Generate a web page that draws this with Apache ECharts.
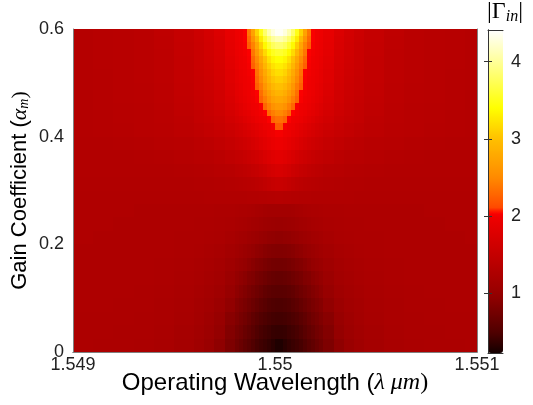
<!DOCTYPE html>
<html>
<head>
<meta charset="utf-8">
<script src="https://cdn.jsdelivr.net/npm/echarts@6/dist/echarts.min.js"></script>
<style>
html, body { margin: 0; padding: 0; background: #fff; }
#chart { width: 533px; height: 405px; }
</style>
</head>
<body>
<div id="chart"></div>
<script>
// column edges (wavelength, um) - finer near the resonance
var lambdaEdges = [1.549, 1.5491, 1.5492, 1.5493, 1.5494, 1.5495, 1.5496, 1.54965, 1.5497, 1.54975, 1.5498,
    1.54982, 1.54984, 1.54986, 1.54988, 1.5499, 1.54992, 1.54994, 1.54996, 1.54998, 1.55, 1.55002,
    1.55004, 1.55006, 1.55008, 1.5501, 1.55012, 1.55014, 1.55016, 1.55018, 1.5502, 1.55022, 1.55024,
    1.55029, 1.55034, 1.55039, 1.55044, 1.55054, 1.55064, 1.55074, 1.55084, 1.55094, 1.551];
// row edges (gain coefficient)
var alphaEdges = [0, 0.025, 0.05, 0.075, 0.1, 0.125, 0.15, 0.175, 0.2, 0.225, 0.25, 0.275, 0.3, 0.325, 0.35, 0.375, 0.4,
    0.4125, 0.425, 0.4375, 0.45, 0.4625, 0.475, 0.4875, 0.5, 0.5125, 0.525, 0.5375, 0.55, 0.5625, 0.575, 0.5875, 0.6];
var xTicks = [1.549, 1.55, 1.551];
var yTicks = [0, 0.2, 0.4, 0.6];
var barTicks = [1, 2, 3, 4];

// |Gamma_in|, one row per gain step (bottom to top)
var gammaRows = [
    [1.25,1.24,1.24,1.23,1.21,1.17,1.11,1.05,0.95,0.83,0.74,0.69,0.62,0.57,0.51,0.46,0.43,0.40,0.37,0.33,0.28, 0.28,0.33,0.37,0.40,0.43,0.46,0.51,0.57,0.62,0.69,0.74,0.83,0.95,1.05,1.11,1.17,1.21,1.23,1.24,1.24,1.25],
    [1.25,1.25,1.24,1.24,1.22,1.18,1.13,1.08,0.99,0.87,0.79,0.74,0.68,0.63,0.57,0.51,0.47,0.44,0.42,0.39,0.38, 0.38,0.39,0.42,0.44,0.47,0.51,0.57,0.63,0.68,0.74,0.79,0.87,0.99,1.08,1.13,1.18,1.22,1.24,1.24,1.25,1.25],
    [1.25,1.25,1.25,1.24,1.23,1.2,1.16,1.1,1.03,0.91,0.84,0.79,0.74,0.69,0.62,0.57,0.52,0.49,0.47,0.45,0.44, 0.44,0.45,0.47,0.49,0.52,0.57,0.62,0.69,0.74,0.79,0.84,0.91,1.03,1.1,1.16,1.2,1.23,1.24,1.25,1.25,1.25],
    [1.26,1.26,1.25,1.25,1.23,1.21,1.17,1.13,1.07,0.97,0.89,0.84,0.8,0.75,0.7,0.65,0.6,0.56,0.52,0.5,0.49, 0.49,0.5,0.52,0.56,0.6,0.65,0.7,0.75,0.8,0.84,0.89,0.97,1.07,1.13,1.17,1.21,1.23,1.25,1.25,1.26,1.26],
    [1.26,1.26,1.26,1.25,1.24,1.22,1.19,1.16,1.11,1.02,0.95,0.9,0.86,0.81,0.77,0.72,0.68,0.63,0.6,0.58,0.57, 0.57,0.58,0.6,0.63,0.68,0.72,0.77,0.81,0.86,0.9,0.95,1.02,1.11,1.16,1.19,1.22,1.24,1.25,1.26,1.26,1.26],
    [1.27,1.26,1.26,1.26,1.25,1.23,1.21,1.18,1.14,1.07,0.99,0.96,0.92,0.87,0.84,0.79,0.76,0.72,0.69,0.66,0.65, 0.65,0.66,0.69,0.72,0.76,0.79,0.84,0.87,0.92,0.96,0.99,1.07,1.14,1.18,1.21,1.23,1.25,1.26,1.26,1.26,1.27],
    [1.27,1.27,1.27,1.26,1.25,1.24,1.22,1.2,1.17,1.11,1.06,1.02,0.99,0.95,0.91,0.87,0.84,0.81,0.78,0.76,0.75, 0.75,0.76,0.78,0.81,0.84,0.87,0.91,0.95,0.99,1.02,1.06,1.11,1.17,1.2,1.22,1.24,1.25,1.26,1.27,1.27,1.27],
    [1.27,1.27,1.27,1.26,1.26,1.25,1.24,1.22,1.2,1.16,1.12,1.09,1.06,1.03,0.99,0.96,0.93,0.9,0.88,0.87,0.86, 0.86,0.87,0.88,0.9,0.93,0.96,0.99,1.03,1.06,1.09,1.12,1.16,1.2,1.22,1.24,1.25,1.26,1.26,1.27,1.27,1.27],
    [1.28,1.27,1.27,1.27,1.26,1.25,1.25,1.24,1.23,1.2,1.17,1.15,1.13,1.1,1.08,1.06,1.03,1.0,0.98,0.97,0.96, 0.96,0.97,0.98,1.0,1.03,1.06,1.08,1.1,1.13,1.15,1.17,1.2,1.23,1.24,1.25,1.25,1.26,1.27,1.27,1.27,1.28],
    [1.28,1.28,1.27,1.27,1.27,1.26,1.25,1.25,1.24,1.23,1.21,1.2,1.19,1.17,1.15,1.13,1.11,1.09,1.08,1.07,1.06, 1.06,1.07,1.08,1.09,1.11,1.13,1.15,1.17,1.19,1.2,1.21,1.23,1.24,1.25,1.25,1.26,1.27,1.27,1.27,1.28,1.28],
    [1.28,1.28,1.28,1.27,1.27,1.27,1.26,1.26,1.25,1.25,1.24,1.23,1.23,1.22,1.21,1.19,1.18,1.16,1.15,1.15,1.14, 1.14,1.15,1.15,1.16,1.18,1.19,1.21,1.22,1.23,1.23,1.24,1.25,1.25,1.26,1.26,1.27,1.27,1.27,1.28,1.28,1.28],
    [1.28,1.28,1.28,1.28,1.28,1.28,1.28,1.29,1.29,1.29,1.29,1.29,1.29,1.3,1.3,1.3,1.31,1.31,1.32,1.32,1.33, 1.33,1.32,1.32,1.31,1.31,1.3,1.3,1.3,1.29,1.29,1.29,1.29,1.29,1.29,1.28,1.28,1.28,1.28,1.28,1.28,1.28],
    [1.29,1.29,1.29,1.29,1.29,1.29,1.3,1.3,1.31,1.32,1.33,1.34,1.35,1.36,1.38,1.4,1.42,1.45,1.48,1.52,1.54, 1.54,1.52,1.48,1.45,1.42,1.4,1.38,1.36,1.35,1.34,1.33,1.32,1.31,1.3,1.3,1.29,1.29,1.29,1.29,1.29,1.29],
    [1.3,1.3,1.3,1.3,1.3,1.31,1.32,1.33,1.35,1.37,1.4,1.41,1.43,1.45,1.48,1.51,1.55,1.59,1.64,1.68,1.71, 1.71,1.68,1.64,1.59,1.55,1.51,1.48,1.45,1.43,1.41,1.4,1.37,1.35,1.33,1.32,1.31,1.3,1.3,1.3,1.3,1.3],
    [1.3,1.3,1.3,1.31,1.32,1.34,1.36,1.37,1.4,1.44,1.47,1.49,1.52,1.55,1.59,1.62,1.67,1.72,1.77,1.82,1.85, 1.85,1.82,1.77,1.72,1.67,1.62,1.59,1.55,1.52,1.49,1.47,1.44,1.4,1.37,1.36,1.34,1.32,1.31,1.3,1.3,1.3],
    [1.31,1.31,1.32,1.33,1.35,1.37,1.4,1.42,1.46,1.51,1.55,1.58,1.61,1.65,1.69,1.74,1.79,1.84,1.89,1.93,1.96, 1.96,1.93,1.89,1.84,1.79,1.74,1.69,1.65,1.61,1.58,1.55,1.51,1.46,1.42,1.4,1.37,1.35,1.33,1.32,1.31,1.31],
    [1.32,1.33,1.34,1.36,1.38,1.41,1.44,1.48,1.52,1.57,1.62,1.65,1.69,1.72,1.77,1.82,1.87,1.91,1.96,1.99,2.02, 2.02,1.99,1.96,1.91,1.87,1.82,1.77,1.72,1.69,1.65,1.62,1.57,1.52,1.48,1.44,1.41,1.38,1.36,1.34,1.33,1.32],
    [1.32,1.33,1.34,1.36,1.38,1.41,1.45,1.49,1.54,1.6,1.65,1.68,1.72,1.77,1.82,1.86,1.91,1.96,1.99,2.02,2.2, 2.2,2.02,1.99,1.96,1.91,1.86,1.82,1.77,1.72,1.68,1.65,1.6,1.54,1.49,1.45,1.41,1.38,1.36,1.34,1.33,1.32],
    [1.32,1.33,1.35,1.37,1.39,1.42,1.48,1.52,1.57,1.64,1.7,1.74,1.79,1.84,1.89,1.94,1.98,2,2.04,2.27,2.34, 2.34,2.27,2.04,2,1.98,1.94,1.89,1.84,1.79,1.74,1.7,1.64,1.57,1.52,1.48,1.42,1.39,1.37,1.35,1.33,1.32],
    [1.32,1.33,1.35,1.37,1.39,1.44,1.49,1.54,1.6,1.68,1.75,1.8,1.85,1.89,1.94,1.98,2.01,2.04,2.3,2.42,2.49, 2.49,2.42,2.3,2.04,2.01,1.98,1.94,1.89,1.85,1.8,1.75,1.68,1.6,1.54,1.49,1.44,1.39,1.37,1.35,1.33,1.32],
    [1.32,1.34,1.35,1.37,1.4,1.45,1.51,1.55,1.62,1.71,1.78,1.83,1.88,1.93,1.98,2,2.03,2.28,2.44,2.57,2.64, 2.64,2.57,2.44,2.28,2.03,2,1.98,1.93,1.88,1.83,1.78,1.71,1.62,1.55,1.51,1.45,1.4,1.37,1.35,1.34,1.32],
    [1.32,1.34,1.36,1.38,1.41,1.46,1.52,1.57,1.64,1.74,1.83,1.87,1.92,1.97,2,2.03,2.27,2.42,2.58,2.71,2.77, 2.77,2.71,2.58,2.42,2.27,2.03,2,1.97,1.92,1.87,1.83,1.74,1.64,1.57,1.52,1.46,1.41,1.38,1.36,1.34,1.32],
    [1.32,1.34,1.36,1.38,1.41,1.47,1.53,1.58,1.65,1.76,1.85,1.89,1.94,1.98,2.01,2.04,2.33,2.52,2.69,2.82,2.89, 2.89,2.82,2.69,2.52,2.33,2.04,2.01,1.98,1.94,1.89,1.85,1.76,1.65,1.58,1.53,1.47,1.41,1.38,1.36,1.34,1.32],
    [1.33,1.34,1.36,1.38,1.41,1.47,1.54,1.59,1.67,1.78,1.86,1.91,1.96,1.99,2.02,2.24,2.41,2.61,2.79,2.92,2.99, 2.99,2.92,2.79,2.61,2.41,2.24,2.02,1.99,1.96,1.91,1.86,1.78,1.67,1.59,1.54,1.47,1.41,1.38,1.36,1.34,1.33],
    [1.33,1.34,1.36,1.39,1.42,1.48,1.54,1.6,1.68,1.8,1.88,1.93,1.97,2,2.03,2.3,2.49,2.71,2.89,3.02,3.09, 3.09,3.02,2.89,2.71,2.49,2.3,2.03,2,1.97,1.93,1.88,1.8,1.68,1.6,1.54,1.48,1.42,1.39,1.36,1.34,1.33],
    [1.33,1.34,1.36,1.39,1.42,1.48,1.55,1.61,1.69,1.81,1.89,1.94,1.98,2.01,2.04,2.35,2.57,2.79,2.98,3.12,3.19, 3.19,3.12,2.98,2.79,2.57,2.35,2.04,2.01,1.98,1.94,1.89,1.81,1.69,1.61,1.55,1.48,1.42,1.39,1.36,1.34,1.33],
    [1.33,1.35,1.36,1.39,1.42,1.49,1.56,1.62,1.7,1.83,1.91,1.96,1.99,2.02,2.24,2.43,2.67,2.9,3.09,3.22,3.29, 3.29,3.22,3.09,2.9,2.67,2.43,2.24,2.02,1.99,1.96,1.91,1.83,1.7,1.62,1.56,1.49,1.42,1.39,1.36,1.35,1.33],
    [1.33,1.35,1.36,1.39,1.42,1.49,1.56,1.63,1.71,1.84,1.92,1.97,2,2.03,2.28,2.5,2.76,3,3.2,3.34,3.41, 3.41,3.34,3.2,3,2.76,2.5,2.28,2.03,2,1.97,1.92,1.84,1.71,1.63,1.56,1.49,1.42,1.39,1.36,1.35,1.33],
    [1.33,1.35,1.37,1.39,1.42,1.5,1.57,1.64,1.73,1.86,1.94,1.98,2.01,2.04,2.37,2.63,2.91,3.16,3.37,3.52,3.59, 3.59,3.52,3.37,3.16,2.91,2.63,2.37,2.04,2.01,1.98,1.94,1.86,1.73,1.64,1.57,1.5,1.42,1.39,1.37,1.35,1.33],
    [1.33,1.35,1.37,1.39,1.43,1.5,1.57,1.65,1.74,1.87,1.95,1.99,2.02,2.23,2.45,2.76,3.08,3.36,3.59,3.76,3.84, 3.84,3.76,3.59,3.36,3.08,2.76,2.45,2.23,2.02,1.99,1.95,1.87,1.74,1.65,1.57,1.5,1.43,1.39,1.37,1.35,1.33],
    [1.33,1.35,1.37,1.39,1.43,1.51,1.58,1.66,1.75,1.89,1.97,2,2.03,2.3,2.59,2.94,3.28,3.59,3.83,4,4.09, 4.09,4,3.83,3.59,3.28,2.94,2.59,2.3,2.03,2,1.97,1.89,1.75,1.66,1.58,1.51,1.43,1.39,1.37,1.35,1.33],
    [1.33,1.35,1.37,1.39,1.44,1.51,1.59,1.67,1.77,1.9,1.98,2,2.03,2.38,2.72,3.12,3.49,3.82,4.09,4.27,4.37, 4.37,4.27,4.09,3.82,3.49,3.12,2.72,2.38,2.03,2,1.98,1.9,1.77,1.67,1.59,1.51,1.44,1.39,1.37,1.35,1.33]
];

var gammaMin = 0.23, gammaMax = 4.41;

// colour scale as seen on the colour bar (value, colour)
var colorStops = [
    [0.23, '#140000'], [0.5, '#500000'], [1.0, '#960000'], [1.5, '#c40000'], [2.0, '#f00000'],
    [2.05, '#ff0000'], [2.1, '#ff4800'], [2.5, '#ff8a00'], [3.0, '#ffc000'], [3.4, '#ffff00'],
    [4.0, '#ffff99'], [4.41, '#ffffff']
];

function hexToRgb(h) {
    return [parseInt(h.substr(1, 2), 16), parseInt(h.substr(3, 2), 16), parseInt(h.substr(5, 2), 16)];
}
// sample the colour scale evenly so visualMap can use it
function buildColors(n) {
    var out = [];
    for (var k = 0; k < n; k++) {
        var v = gammaMin + (gammaMax - gammaMin) * k / (n - 1);
        var s = 0;
        while (s < colorStops.length - 2 && v > colorStops[s + 1][0]) s++;
        var a = colorStops[s], b = colorStops[s + 1];
        var t = Math.max(0, Math.min(1, (v - a[0]) / (b[0] - a[0])));
        var ca = hexToRgb(a[1]), cb = hexToRgb(b[1]);
        out.push('rgb(' + Math.round(ca[0] + (cb[0] - ca[0]) * t) + ',' + Math.round(ca[1] + (cb[1] - ca[1]) * t) + ',' + Math.round(ca[2] + (cb[2] - ca[2]) * t) + ')');
    }
    return out;
}

var cells = [];
for (var j = 0; j < gammaRows.length; j++) {
    for (var i = 0; i < gammaRows[j].length; i++) {
        cells.push([lambdaEdges[i], lambdaEdges[i + 1], alphaEdges[j], alphaEdges[j + 1], gammaRows[j][i]]);
    }
}

// one rectangle per cell, snapped to whole pixels so neighbours meet without seams
function renderCell(params, api) {
    var p0 = api.coord([api.value(0), api.value(3)]);
    var p1 = api.coord([api.value(1), api.value(2)]);
    var x0 = Math.round(p0[0]), y0 = Math.round(p0[1]);
    var x1 = Math.round(p1[0]), y1 = Math.round(p1[1]);
    return {
        type: 'rect',
        shape: { x: x0, y: y0, width: x1 - x0, height: y1 - y0 },
        style: { fill: api.visual('color'), stroke: null }
    };
}

var sans = 'Liberation Sans, Arial, sans-serif';
var serif = 'Liberation Serif, Times New Roman, serif';
var frame = { show: true, lineStyle: { color: '#808080', width: 1 } };

var myChart = echarts.init(document.getElementById('chart'));
myChart.setOption({
    backgroundColor: '#fff',
    animation: false,
    grid: [
        { left: 73, top: 29, width: 404, height: 323 },
        { left: 488, top: 30, width: 15, height: 323 }
    ],
    xAxis: [
        {
            type: 'value', gridIndex: 0, min: 1.549, max: 1.551, z: 10,
            axisLine: frame, axisTick: { show: false }, splitLine: { show: false },
            axisLabel: {
                customValues: xTicks, margin: 4, fontSize: 18, fontFamily: sans, color: '#222',
                formatter: function (v) { return String(+v.toFixed(3)); }
            },
            name: '{t|Operating Wavelength (}{s|λ μm}{p|)}',
            nameLocation: 'middle', nameGap: 19, nameMoveOverlap: false,
            nameTextStyle: {
                color: '#000',
                rich: {
                    t: { fontSize: 24, fontFamily: sans, color: '#000' },
                    s: { fontSize: 24, fontFamily: serif, fontStyle: 'italic', color: '#000' },
                    p: { fontSize: 24, fontFamily: serif, color: '#000' }
                }
            }
        },
        { type: 'value', gridIndex: 0, position: 'top', min: 1.549, max: 1.551, z: 10,
          axisLine: frame, axisTick: { show: false }, axisLabel: { show: false }, splitLine: { show: false } },
        { type: 'value', gridIndex: 1, min: 0, max: 1, z: 10,
          axisLine: { show: true, lineStyle: { color: '#333' } }, axisTick: { show: false }, axisLabel: { show: false }, splitLine: { show: false } },
        { type: 'value', gridIndex: 1, position: 'top', min: 0, max: 1, z: 10,
          axisLine: { show: true, lineStyle: { color: '#333' } }, axisTick: { show: false }, axisLabel: { show: false }, splitLine: { show: false } }
    ],
    yAxis: [
        {
            type: 'value', gridIndex: 0, min: 0, max: 0.6, z: 10,
            axisLine: frame, axisTick: { show: false }, splitLine: { show: false },
            axisLabel: {
                customValues: yTicks, margin: 9, fontSize: 18, fontFamily: sans, color: '#222',
                formatter: function (v) { return v === 0 ? '0' : v.toFixed(1); }
            },
            name: '{t|Gain Coefficient (}{s|α}{m|m}{p|)}',
            nameLocation: 'middle', nameRotate: 90, nameGap: 42, nameMoveOverlap: false,
            nameTextStyle: {
                color: '#000',
                rich: {
                    t: { fontSize: 22, fontFamily: sans, color: '#000' },
                    s: { fontSize: 22, fontFamily: serif, fontStyle: 'italic', color: '#000' },
                    m: { fontSize: 14, fontFamily: serif, fontStyle: 'italic', color: '#000', verticalAlign: 'bottom', padding: [8, 0, 0, 0] },
                    p: { fontSize: 22, fontFamily: serif, color: '#000' }
                }
            }
        },
        { type: 'value', gridIndex: 0, position: 'right', min: 0, max: 0.6, z: 10,
          axisLine: frame, axisTick: { show: false }, axisLabel: { show: false }, splitLine: { show: false } },
        {
            type: 'value', gridIndex: 1, position: 'right', min: gammaMin, max: gammaMax, z: 10,
            axisLine: { show: true, lineStyle: { color: '#333' } },
            axisTick: { show: true, inside: true, length: 4, customValues: barTicks, lineStyle: { color: '#333' } },
            splitLine: { show: false },
            axisLabel: { customValues: barTicks, margin: 8, fontSize: 18, fontFamily: sans, color: '#222' }
        },
        {
            type: 'value', gridIndex: 1, position: 'left', min: gammaMin, max: gammaMax, z: 10,
            axisLine: { show: true, lineStyle: { color: '#333' } },
            axisTick: { show: true, inside: true, length: 4, customValues: barTicks, lineStyle: { color: '#333' } },
            axisLabel: { show: false }, splitLine: { show: false }
        }
    ],
    visualMap: {
        type: 'continuous', seriesIndex: 0, dimension: 4,
        min: gammaMin, max: gammaMax, calculable: false, realtime: false,
        left: 488, top: 30, itemWidth: 15, itemHeight: 323, padding: 0,
        text: null, showLabel: false,
        inRange: { color: buildColors(211) }
    },
    graphic: [
        {
            type: 'text', left: 487, top: 0,
            style: {
                text: '{a||Γ}{b|in}{a||}',
                rich: {
                    a: { fontSize: 24, fontFamily: serif, fill: '#000' },
                    b: { fontSize: 16, fontFamily: serif, fontStyle: 'italic', fill: '#000', verticalAlign: 'bottom', padding: [9, 0, 0, 0] }
                }
            }
        }
    ],
    series: [
        {
            type: 'custom', xAxisIndex: 0, yAxisIndex: 0,
            renderItem: renderCell,
            encode: { x: [0, 1], y: [2, 3] },
            data: cells,
            silent: true
        }
    ]
});
</script>
</body>
</html>
